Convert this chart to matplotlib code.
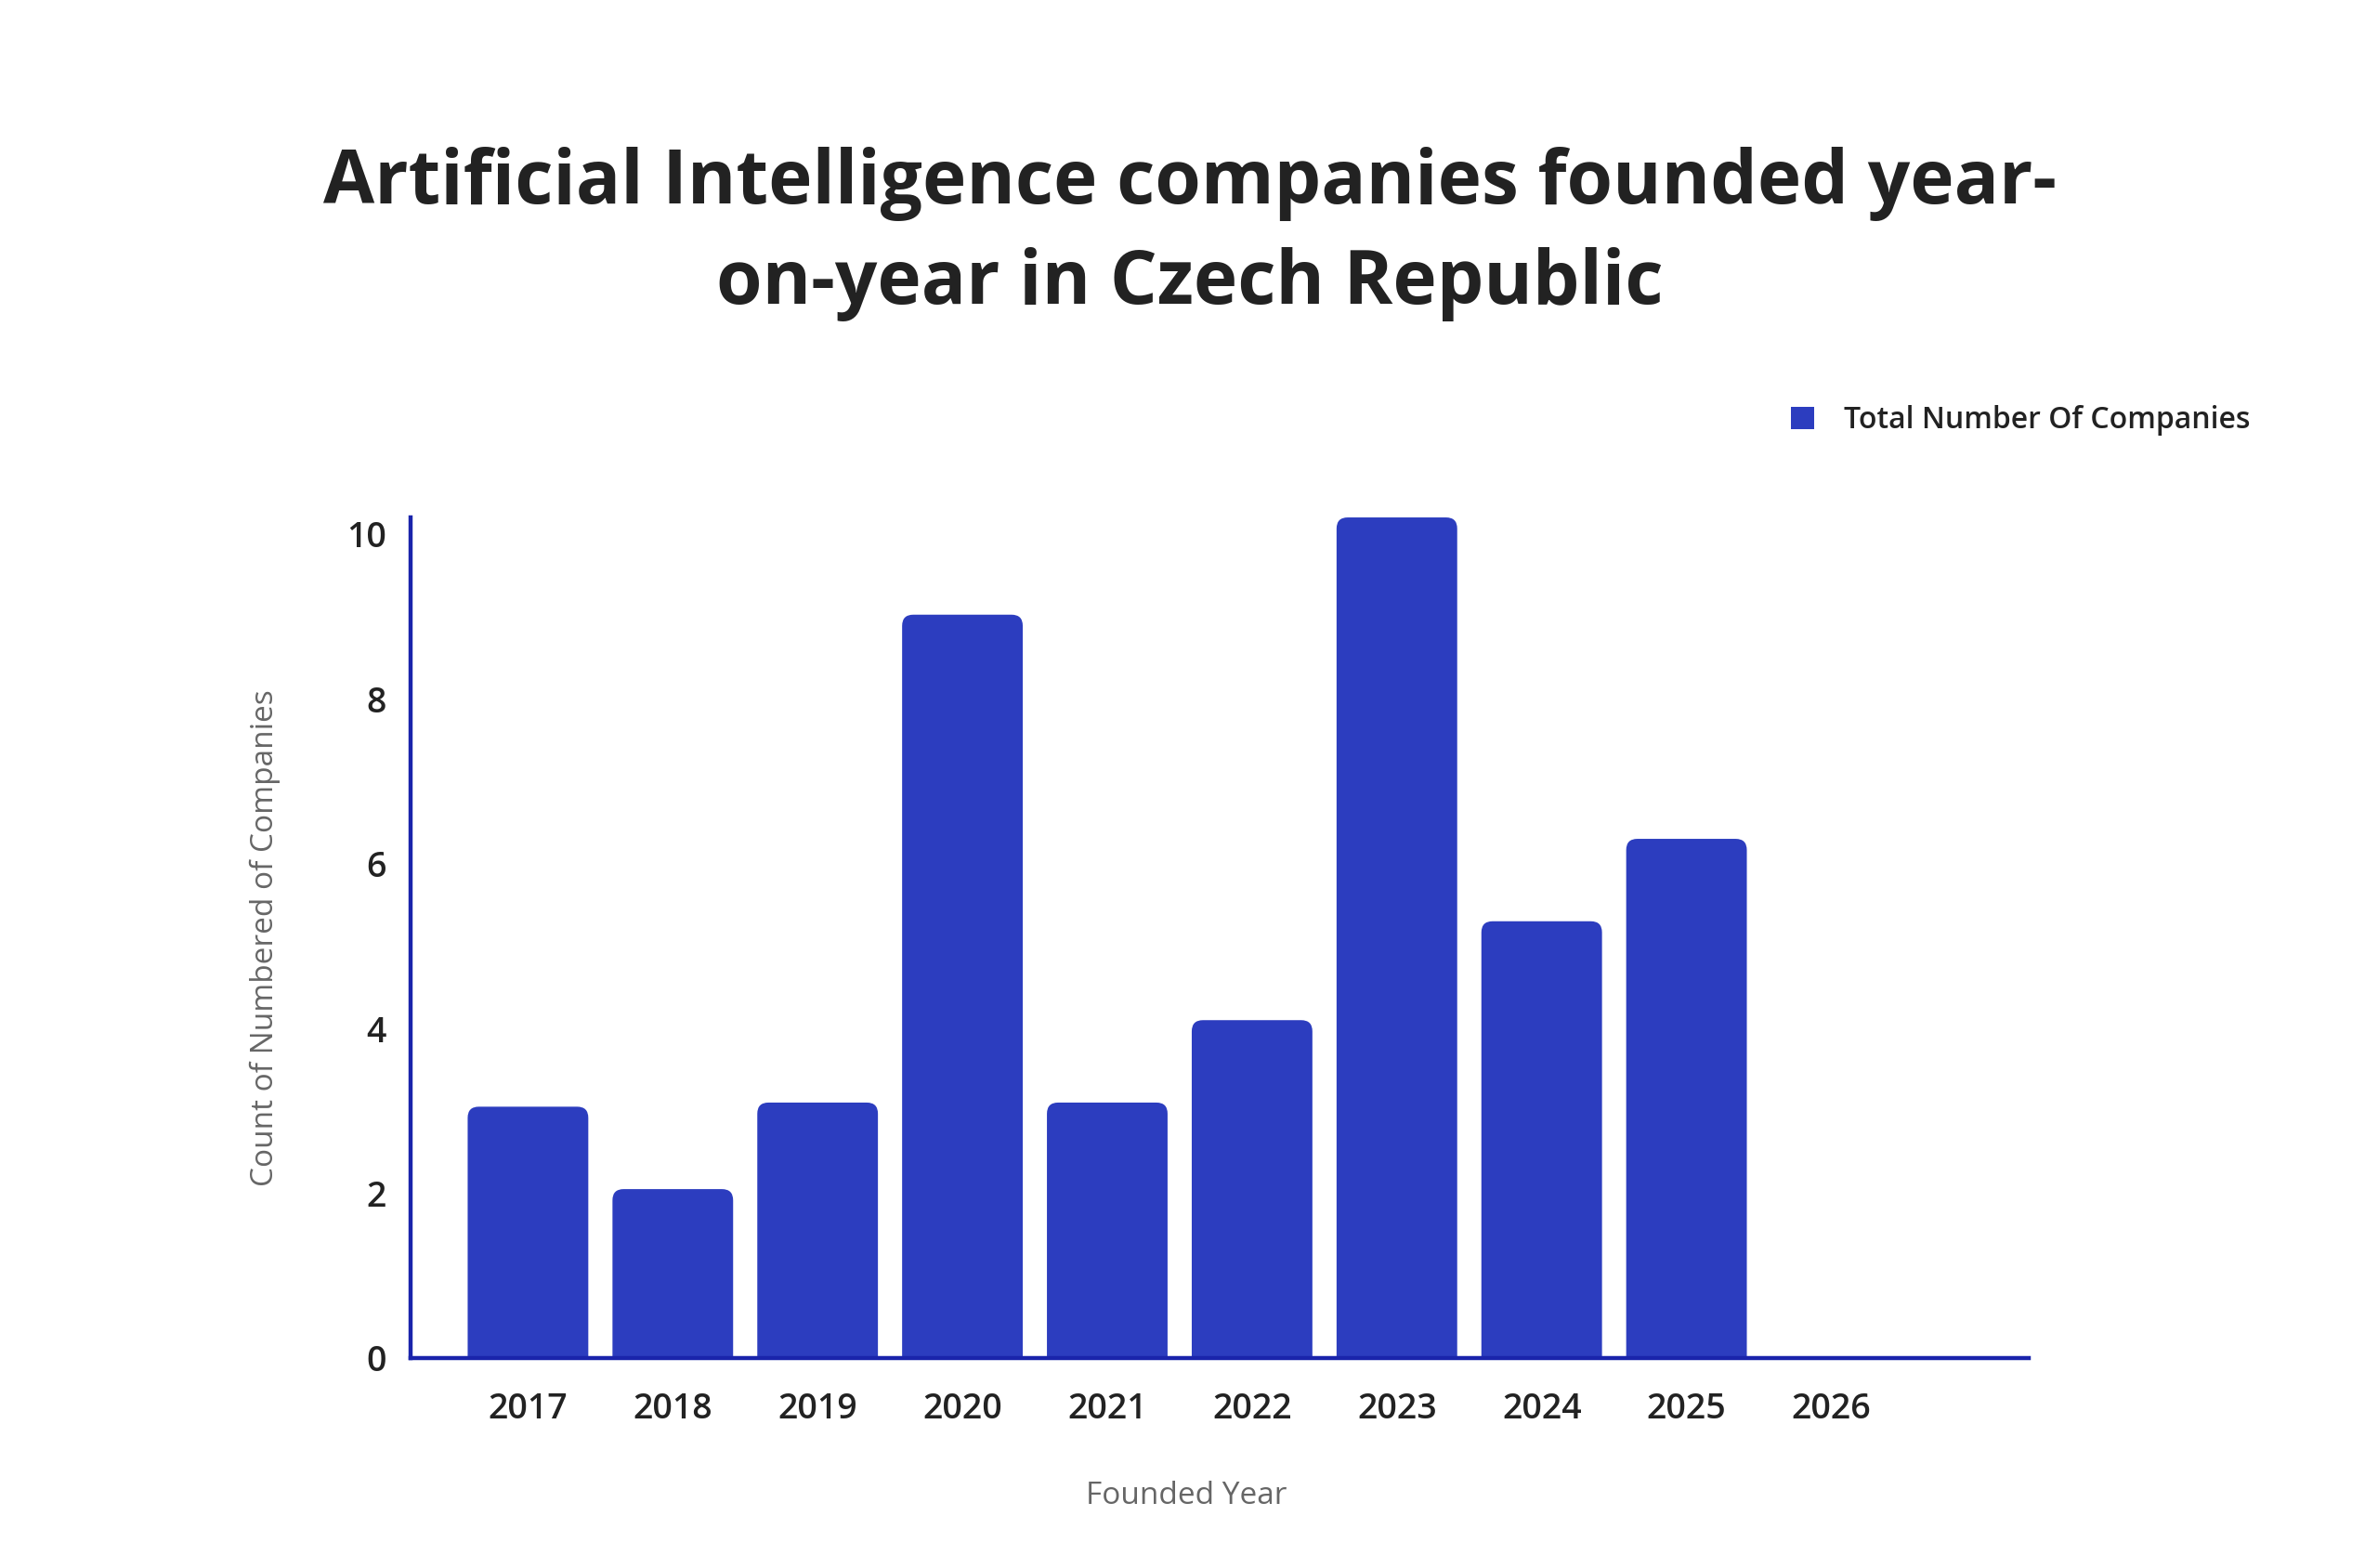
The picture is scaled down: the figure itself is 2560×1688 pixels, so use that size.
import matplotlib
matplotlib.use('Agg')
import matplotlib.pyplot as plt
from matplotlib.patches import FancyBboxPatch, Patch

years = ['2017', '2018', '2019', '2020', '2021', '2022', '2023', '2024', '2025', '2026']
companies = [3.05, 2.05, 3.1, 9.02, 3.1, 4.1, 10.2, 5.3, 6.3, 0]
y_ticks = [0, 2, 4, 6, 8, 10]

title = 'Artificial Intelligence companies founded year-\non-year in Czech Republic'
series_name = 'Total Number Of Companies'
x_title = 'Founded Year'
y_title = 'Count of Numbered of Companies'

bar_color = '#2c3dbf'
axis_color = '#1a24ab'
text_color = '#222222'
label_color = '#666666'

plt.rcParams['font.family'] = ['Open Sans', 'DejaVu Sans']

fig = plt.figure(figsize=(25.6, 16.88), dpi=100)
ax = fig.add_axes([0.1727, 0.1339, 0.6806, 0.5361])

x = list(range(len(years)))
bars = ax.bar(x, companies, width=0.833, color=bar_color)

ax.set_xlim(-0.81, 10.366)
ax.set_ylim(0, 10.2)

# swap the plain rectangles for ones with rounded top corners
fig_w, fig_h = fig.get_size_inches() * fig.dpi
pos = ax.get_position()
px_x = pos.width * fig_w / (ax.get_xlim()[1] - ax.get_xlim()[0])
px_y = pos.height * fig_h / (ax.get_ylim()[1] - ax.get_ylim()[0])
radius_px = 12
rx = radius_px / px_x
ry = radius_px / px_y
for rect in bars.patches:
    h = rect.get_height()
    rect.set_visible(False)
    if h <= 0:
        continue
    rounded = FancyBboxPatch((rect.get_x(), -ry), rect.get_width(), h + ry,
                             boxstyle=f'round,pad=0,rounding_size={rx}',
                             mutation_aspect=ry / rx,
                             facecolor=bar_color, edgecolor='none', zorder=2)
    ax.add_patch(rounded)

for side in ['top', 'right']:
    ax.spines[side].set_visible(False)
for side in ['left', 'bottom']:
    ax.spines[side].set_color(axis_color)
    ax.spines[side].set_linewidth(3.2)
    ax.spines[side].set_zorder(3)

ax.set_xticks(x)
ax.set_xticklabels(years)
ax.set_yticks(y_ticks)
ax.tick_params(axis='x', length=0, pad=26, labelsize=27, labelcolor=text_color)
ax.tick_params(axis='y', length=0, pad=19, labelsize=27, labelcolor=text_color)
for lbl in ax.get_xticklabels() + ax.get_yticklabels():
    lbl.set_fontweight('semibold')

ax.set_xlabel(x_title, fontsize=24, color=label_color)
ax.xaxis.set_label_coords(0.4795, -0.1455)
ax.set_ylabel(y_title, fontsize=24, color=label_color)
ax.yaxis.set_label_coords(-0.0805, 0.5)

fig.text(0.5004, 0.8506, title, ha='center', va='center', fontsize=57.6,
         fontweight='bold', color=text_color, linespacing=1.45)

legend_handle = Patch(facecolor=bar_color, edgecolor='none')
leg = ax.legend(handles=[legend_handle], labels=[series_name], loc='center left',
                bbox_to_anchor=(0.753, 0.732), bbox_transform=fig.transFigure,
                frameon=False, fontsize=23, handlelength=0.8, handleheight=0.8,
                handletextpad=1.0, borderpad=0, borderaxespad=0)
for t in leg.get_texts():
    t.set_color(text_color)
    t.set_fontweight('semibold')

fig.savefig('out.png', dpi=100, facecolor='white')
